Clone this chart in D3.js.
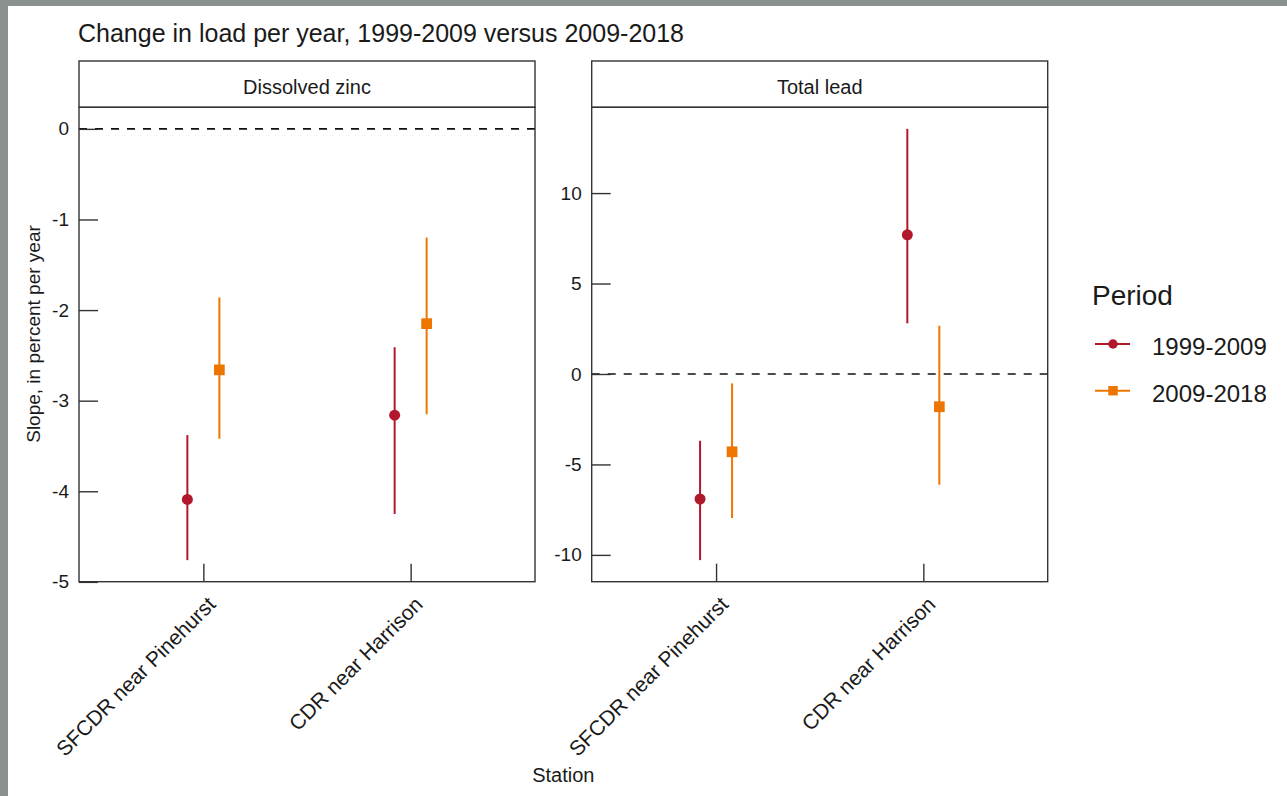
<!DOCTYPE html>
<html>
<head>
<meta charset="utf-8">
<script src="https://cdn.jsdelivr.net/npm/d3@7"></script>
<style>
  body { margin: 0; background: #fff; }
  svg text { font-family: "Liberation Sans", Arial, sans-serif; fill: #1a1a1a; }
  .tick line { stroke: #333; stroke-width: 1.4px; }
</style>
</head>
<body>
<svg class="chart" width="1287" height="796"></svg>
<script>
// data (rows: station x period)
const stations = ["SFCDR near Pinehurst", "CDR near Harrison"];
const periods = ["1999-2009", "2009-2018"];
const panels = ["Dissolved zinc", "Total lead"];
const rowStation = ["SFCDR near Pinehurst", "SFCDR near Pinehurst", "CDR near Harrison", "CDR near Harrison"];
const rowPeriod = ["1999-2009", "2009-2018", "1999-2009", "2009-2018"];

const zincEst  = [-4.09, -2.66, -3.16, -2.15];
const zincLow  = [-4.76, -3.42, -4.25, -3.15];
const zincHigh = [-3.38, -1.86, -2.41, -1.20];
const leadEst  = [-6.91, -4.30, 7.69, -1.81];
const leadLow  = [-10.29, -7.96, 2.80, -6.12];
const leadHigh = [-3.69, -0.52, 13.55, 2.67];

const zincTicks = [0, -1, -2, -3, -4, -5];
const leadTicks = [10, 5, 0, -5, -10];

let svg = d3.select("svg.chart");

// page background + grey frame of the screenshot
svg.append("rect").attr("width", 1287).attr("height", 796).attr("fill", "#fff");
svg.append("rect").attr("width", 1287).attr("height", 6).attr("fill", "#8a918e");
svg.append("rect").attr("width", 8).attr("height", 796).attr("fill", "#8a918e");

let colorScale = d3.scaleOrdinal()
    .domain(periods)
    .range(["#b2182b", "#ee7600"]);
let dodge = d3.scalePoint()
    .domain(periods)
    .range([-16, 16]);

const plotTop = 107.3, plotBottom = 581.7, stripTop = 61;
const panelLeft = [79, 591.7], panelWidth = 456;

// title
svg.append("text")
    .attr("x", 78)
    .attr("y", 42)
    .attr("font-size", "25px")
    .text("Change in load per year, 1999-2009 versus 2009-2018");

function makeRows(est, low, high) {
    return est.map((d, i) => ({
        station: rowStation[i],
        period: rowPeriod[i],
        est: d, low: low[i], high: high[i]
    }));
}

const panelData = [
    {name: panels[0], rows: makeRows(zincEst, zincLow, zincHigh), ticks: zincTicks},
    {name: panels[1], rows: makeRows(leadEst, leadLow, leadHigh), ticks: leadTicks}
];

panelData.forEach((p, pi) => {
    let g = svg.append("g")
        .attr("transform", "translate(" + panelLeft[pi] + ",0)");

    // y domain like ggplot: data range (incl. 0 line) expanded by 5%
    let lo = d3.min([0, d3.min(p.rows, d => d.low)]);
    let hi = d3.max([0, d3.max(p.rows, d => d.high)]);
    let pad = (hi - lo) * 0.05;
    let yScale = d3.scaleLinear()
        .domain([lo - pad, hi + pad])
        .range([plotBottom, plotTop]);
    let xScale = d3.scalePoint()
        .domain(stations)
        .range([0, panelWidth])
        .padding(0.6);

    // strip
    g.append("rect")
        .attr("x", 0).attr("y", stripTop)
        .attr("width", panelWidth).attr("height", plotTop - stripTop)
        .attr("fill", "#fff")
        .attr("stroke", "#333")
        .attr("stroke-width", 1.4);
    g.append("text")
        .attr("x", panelWidth / 2)
        .attr("y", (stripTop + plotTop) / 2 + 10)
        .attr("text-anchor", "middle")
        .attr("font-size", "20px")
        .text(p.name);

    // zero reference line
    g.append("line")
        .attr("x1", 0).attr("x2", panelWidth)
        .attr("y1", yScale(0)).attr("y2", yScale(0))
        .attr("stroke", "#111")
        .attr("stroke-width", 1.6)
        .attr("stroke-dasharray", "8,8");

    // axes with inward ticks
    let yAxis = g.append("g")
        .call(d3.axisLeft(yScale)
            .tickValues(p.ticks)
            .tickFormat(d => String(d))
            .tickSize(-19)
            .tickPadding(10));
    yAxis.select(".domain").remove();
    yAxis.selectAll("text").attr("font-size", "19px").attr("fill", "#1a1a1a");

    let xAxis = g.append("g")
        .attr("transform", "translate(0," + plotBottom + ")")
        .call(d3.axisBottom(xScale).tickSize(-18));
    xAxis.select(".domain").remove();
    xAxis.selectAll("text")
        .attr("font-size", "21px")
        .attr("fill", "#1a1a1a")
        .attr("y", 0)
        .attr("dy", 0)
        .attr("text-anchor", "end")
        .attr("transform", "translate(13,24) rotate(-45)");
    xAxis.attr("font-family", null);
    yAxis.attr("font-family", null);

    // error bars
    g.selectAll(".bar")
        .data(p.rows)
        .join("line")
        .attr("class", "bar")
        .attr("x1", d => xScale(d.station) + dodge(d.period))
        .attr("x2", d => xScale(d.station) + dodge(d.period))
        .attr("y1", d => yScale(d.low))
        .attr("y2", d => yScale(d.high))
        .attr("stroke", d => colorScale(d.period))
        .attr("stroke-width", 2);

    // points: circle for first period, square for second
    g.selectAll(".pt")
        .data(p.rows)
        .join("path")
        .attr("class", "pt")
        .attr("transform", d => "translate(" + (xScale(d.station) + dodge(d.period)) + "," + yScale(d.est) + ")")
        .attr("d", d => d.period === periods[0]
            ? d3.symbol(d3.symbolCircle, 95)()
            : d3.symbol(d3.symbolSquare, 115)())
        .attr("fill", d => colorScale(d.period));

    // panel border
    g.append("rect")
        .attr("x", 0).attr("y", plotTop)
        .attr("width", panelWidth).attr("height", plotBottom - plotTop)
        .attr("fill", "none")
        .attr("stroke", "#333")
        .attr("stroke-width", 1.4);
});

// axis titles
svg.append("text")
    .attr("transform", "translate(40,334) rotate(-90)")
    .attr("text-anchor", "middle")
    .attr("font-size", "19px")
    .text("Slope, in percent per year");
svg.append("text")
    .attr("x", (panelLeft[0] + panelLeft[1] + panelWidth) / 2)
    .attr("y", 782)
    .attr("text-anchor", "middle")
    .attr("font-size", "20px")
    .text("Station");

// legend
let legend = svg.append("g").attr("transform", "translate(1092,0)");
legend.append("text")
    .attr("x", 0).attr("y", 305)
    .attr("font-size", "28px")
    .text("Period");
let keys = legend.selectAll(".key")
    .data(periods)
    .join("g")
    .attr("class", "key")
    .attr("transform", (d, i) => "translate(0," + (344 + i * 46.7) + ")");
keys.append("line")
    .attr("x1", 3).attr("x2", 38)
    .attr("stroke", d => colorScale(d))
    .attr("stroke-width", 2);
keys.append("path")
    .attr("transform", "translate(21,0)")
    .attr("d", (d, i) => i === 0 ? d3.symbol(d3.symbolCircle, 70)() : d3.symbol(d3.symbolSquare, 90)())
    .attr("fill", d => colorScale(d));
keys.append("text")
    .attr("x", 60)
    .attr("y", 11)
    .attr("font-size", "24px")
    .text(d => d);
</script>
</body>
</html>
